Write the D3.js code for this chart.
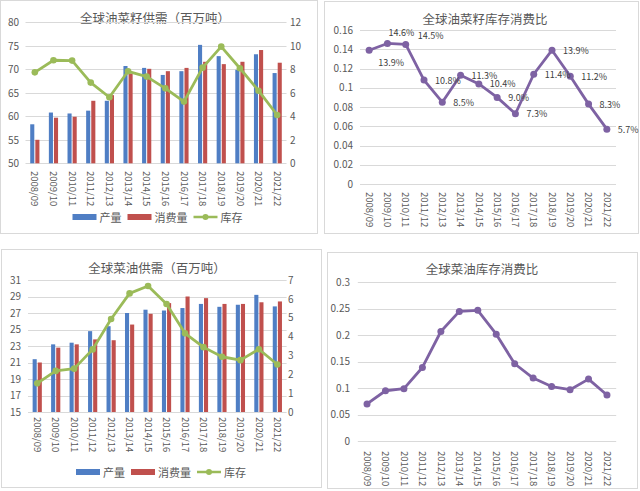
<!DOCTYPE html>
<html>
<head>
<meta charset="utf-8">
<script src="https://cdn.jsdelivr.net/npm/d3@7"></script>
<style>
  html, body { margin: 0; padding: 0; background: #fff; }
  svg { display: block; }
  text { font-family: "Noto Sans CJK SC", "Noto Sans", sans-serif; }
</style>
</head>
<body>
<svg id="chart" width="640" height="491"></svg>
<script>
// ---------- data ----------
const categories = ["2008/09","2009/10","2010/11","2011/12","2012/13","2013/14","2014/15",
                    "2015/16","2016/17","2017/18","2018/19","2019/20","2020/21","2021/22"];
const seriesNames = ["产量", "消费量", "库存"];

// 全球油菜籽供需（百万吨）
const seedProduction  = [58.3, 60.8, 60.6, 61.2, 63.3, 70.7, 70.3, 68.8, 69.6, 75.2, 72.8, 69.9, 73.2, 69.2];
const seedConsumption = [55.0, 59.7, 59.9, 63.3, 64.5, 69.1, 70.1, 69.6, 70.3, 71.6, 71.1, 71.6, 74.1, 71.4];
const seedStock       = [7.74, 8.77, 8.74, 6.87, 5.62, 7.83, 7.38, 6.38, 5.25, 8.14, 9.93, 8.09, 6.18, 4.11];
const seedLeftTicks   = [50, 55, 60, 65, 70, 75, 80];
const seedRightTicks  = [0, 2, 4, 6, 8, 10, 12];

// 全球油菜籽库存消费比
const seedRatio       = [0.139, 0.146, 0.145, 0.108, 0.085, 0.113, 0.104, 0.090, 0.073, 0.114, 0.139, 0.112, 0.083, 0.057];
const seedRatioTicks  = [0, 0.02, 0.04, 0.06, 0.08, 0.1, 0.12, 0.14, 0.16];

// 全球菜油供需（百万吨）
const oilProduction   = [21.4, 23.2, 23.4, 24.8, 25.4, 27.0, 27.4, 27.3, 27.6, 28.1, 27.75, 28.0, 29.2, 27.8];
const oilConsumption  = [21.0, 22.8, 23.2, 23.8, 23.7, 25.6, 26.9, 28.2, 29.0, 28.8, 28.1, 28.1, 28.3, 28.4];
const oilStock        = [1.52, 2.18, 2.30, 3.32, 4.93, 6.29, 6.68, 5.73, 4.17, 3.44, 2.93, 2.75, 3.33, 2.52];
const oilLeftTicks    = [15, 17, 19, 21, 23, 25, 27, 29, 31];
const oilRightTicks   = [0, 1, 2, 3, 4, 5, 6, 7];

// 全球菜油库存消费比
const oilRatio        = [0.070, 0.095, 0.099, 0.139, 0.207, 0.245, 0.247, 0.202, 0.146, 0.119, 0.103, 0.097, 0.117, 0.087];
const oilRatioTicks   = [0, 0.05, 0.1, 0.15, 0.2, 0.25, 0.3];

// ---------- style ----------
const C_BLUE = "#4F7EC4", C_RED = "#C0504D", C_GREEN = "#9BBB59", C_PURPLE = "#7E62A3";
const C_GRID = "#D9D9D9", C_TEXT = "#595959", C_BORDER = "#D9D9D9";
const svg = d3.select("#chart");
const numFmt = d => String(+d.toFixed(2));

function panelBorder(b) {
  svg.append("rect").attr("x", b[0]).attr("y", b[1]).attr("width", b[2] - b[0]).attr("height", b[3] - b[1])
    .attr("fill", "#fff").attr("stroke", C_BORDER).attr("stroke-width", 1);
}
function title(t, x, y) {
  svg.append("text").attr("x", x).attr("y", y).attr("text-anchor", "middle")
    .attr("dominant-baseline", "central").attr("font-size", 12.5).attr("fill", C_TEXT).text(t);
}
function grid(g, y, ticks, x0, x1) {
  g.append("g").selectAll("line").data(ticks).join("line")
    .attr("x1", x0).attr("x2", x1).attr("y1", d => Math.round(y(d)) + 0.5).attr("y2", d => Math.round(y(d)) + 0.5)
    .attr("stroke", C_GRID).attr("stroke-width", 1);
}
function yLabels(g, y, ticks, x, anchor) {
  const ax = (anchor === "end" ? d3.axisLeft(y) : d3.axisRight(y)).tickValues(ticks).tickSize(0).tickPadding(0).tickFormat(numFmt);
  const a = g.append("g").attr("transform", `translate(${x},0)`).call(ax);
  a.select(".domain").remove();
  a.selectAll("text").attr("font-size", 10).attr("fill", C_TEXT)
    .attr("font-family", '"Noto Sans CJK SC", sans-serif');
}
function catLabels(g, x, top) {
  g.append("g").selectAll("text").data(categories).join("text")
    .attr("transform", d => `translate(${x(d) + x.bandwidth() / 2},${top}) rotate(90)`)
    .attr("text-anchor", "start").attr("dy", "0.35em")
    .attr("font-size", 9.5).attr("fill", C_TEXT).text(d => d);
}
function legend(cx, y) {
  const g = svg.append("g");
  const items = [
    { name: seriesNames[0], type: "bar", color: C_BLUE },
    { name: seriesNames[1], type: "bar", color: C_RED },
    { name: seriesNames[2], type: "line", color: C_GREEN }
  ];
  let xpos = 0;
  items.forEach((it) => {
    const ig = g.append("g").attr("transform", `translate(${xpos},0)`);
    if (it.type === "bar") {
      ig.append("rect").attr("x", 0).attr("y", -3).attr("width", 24).attr("height", 6).attr("fill", it.color);
    } else {
      ig.append("line").attr("x1", 0).attr("x2", 24).attr("y1", 0).attr("y2", 0)
        .attr("stroke", it.color).attr("stroke-width", 2.5);
      ig.append("circle").attr("cx", 12).attr("cy", 0).attr("r", 3).attr("fill", it.color);
    }
    const t = ig.append("text").attr("x", 27).attr("y", 0).attr("dominant-baseline", "central")
      .attr("font-size", 11).attr("fill", C_TEXT).text(it.name);
    xpos += 27 + t.node().getComputedTextLength() + 6;
  });
  const w = xpos - 6;
  g.attr("transform", `translate(${cx - w / 2},${y})`);
}

function comboChart(cfg) {
  panelBorder(cfg.border);
  title(cfg.title, cfg.titleX, cfg.titleY);
  const g = svg.append("g");
  const x = d3.scaleBand().domain(categories).range([cfg.x0, cfg.x1]);
  const yL = d3.scaleLinear().domain(d3.extent(cfg.leftTicks)).range([cfg.yBot, cfg.yTop]);
  const yR = d3.scaleLinear().domain(d3.extent(cfg.rightTicks)).range([cfg.yBot, cfg.yTop]);
  grid(g, yL, cfg.leftTicks, cfg.x0, cfg.x1);
  yLabels(g, yL, cfg.leftTicks, cfg.leftLabelX, "end");
  yLabels(g, yR, cfg.rightTicks, cfg.rightLabelX, "start");
  const inner = d3.scaleBand().domain([0, 1]).range([-4.6, 4.6]).paddingInner(0.2);
  const barSeries = [{ vals: cfg.prod, color: C_BLUE, k: 0 }, { vals: cfg.cons, color: C_RED, k: 1 }];
  barSeries.forEach(s => {
    g.append("g").selectAll("rect").data(categories).join("rect")
      .attr("x", (d) => x(d) + x.bandwidth() / 2 + inner(s.k))
      .attr("width", inner.bandwidth())
      .attr("y", (d, i) => yL(s.vals[i]))
      .attr("height", (d, i) => yL(yL.domain()[0]) - yL(s.vals[i]))
      .attr("fill", s.color);
  });
  const line = d3.line().x((d, i) => x(categories[i]) + x.bandwidth() / 2).y(d => yR(d));
  g.append("path").datum(cfg.stock).attr("d", line).attr("fill", "none")
    .attr("stroke", C_GREEN).attr("stroke-width", 2.8).attr("stroke-linejoin", "round");
  g.append("g").selectAll("circle").data(cfg.stock).join("circle")
    .attr("cx", (d, i) => x(categories[i]) + x.bandwidth() / 2).attr("cy", d => yR(d))
    .attr("r", 3.3).attr("fill", C_GREEN);
  catLabels(g, x, cfg.catTop);
  legend(cfg.legendX, cfg.legendY);
}

function ratioChart(cfg) {
  panelBorder(cfg.border);
  title(cfg.title, cfg.titleX, cfg.titleY);
  const g = svg.append("g");
  const x = d3.scaleBand().domain(categories).range([cfg.x0, cfg.x1]);
  const y = d3.scaleLinear().domain(d3.extent(cfg.ticks)).range([cfg.yBot, cfg.yTop]);
  grid(g, y, cfg.ticks, cfg.x0, cfg.x1);
  yLabels(g, y, cfg.ticks, cfg.leftLabelX, "end");
  const cx = i => x(categories[i]) + x.bandwidth() / 2;
  const line = d3.line().x((d, i) => cx(i)).y(d => y(d));
  g.append("path").datum(cfg.vals).attr("d", line).attr("fill", "none")
    .attr("stroke", C_PURPLE).attr("stroke-width", 2.8).attr("stroke-linejoin", "round");
  g.append("g").selectAll("circle").data(cfg.vals).join("circle")
    .attr("cx", (d, i) => cx(i)).attr("cy", d => y(d)).attr("r", 3.5).attr("fill", C_PURPLE);
  if (cfg.labels) {
    const pct = d3.format(".1%");
    // label nudges (Excel labels sit right of the point; the first three were moved by hand)
    const nudge = i => i === 0 ? [9, 12] : i === 1 ? [1, -11] : i === 2 ? [12, -9] : [11, 0];
    g.append("g").selectAll("text").data(cfg.vals).join("text")
      .attr("x", (d, i) => cx(i) + nudge(i)[0]).attr("y", (d, i) => y(d) + nudge(i)[1])
      .attr("dominant-baseline", "central").attr("font-size", 9).attr("fill", "#404040")
      .text(d => pct(d));
  }
  catLabels(g, x, cfg.catTop);
}

comboChart({
  border: [0.5, 0.5, 317.5, 233.5], title: "全球油菜籽供需（百万吨）", titleX: 155, titleY: 17,
  x0: 25.5, x1: 286.5, yTop: 22.3, yBot: 163.3,
  leftTicks: seedLeftTicks, rightTicks: seedRightTicks, leftLabelX: 19, rightLabelX: 290,
  prod: seedProduction, cons: seedConsumption, stock: seedStock,
  catTop: 171, legendX: 157.5, legendY: 217
});
ratioChart({
  border: [324.5, 1.5, 638.5, 233.5], title: "全球油菜籽库存消费比", titleX: 485, titleY: 18.5,
  x0: 360, x1: 616, yTop: 30, yBot: 184, ticks: seedRatioTicks, leftLabelX: 353,
  vals: seedRatio, labels: true, catTop: 192
});
comboChart({
  border: [1.5, 249.5, 321.5, 487.5], title: "全球菜油供需（百万吨）", titleX: 157, titleY: 267,
  x0: 28, x1: 286.6, yTop: 280, yBot: 412,
  leftTicks: oilLeftTicks, rightTicks: oilRightTicks, leftLabelX: 21, rightLabelX: 288,
  prod: oilProduction, cons: oilConsumption, stock: oilStock,
  catTop: 417, legendX: 161, legendY: 472
});
ratioChart({
  border: [327.5, 252.5, 637.5, 488.5], title: "全球菜油库存消费比", titleX: 482, titleY: 268,
  x0: 357.8, x1: 616.2, yTop: 282.3, yBot: 441, ticks: oilRatioTicks, leftLabelX: 350,
  vals: oilRatio, labels: false, catTop: 451
});
</script>
</body>
</html>
